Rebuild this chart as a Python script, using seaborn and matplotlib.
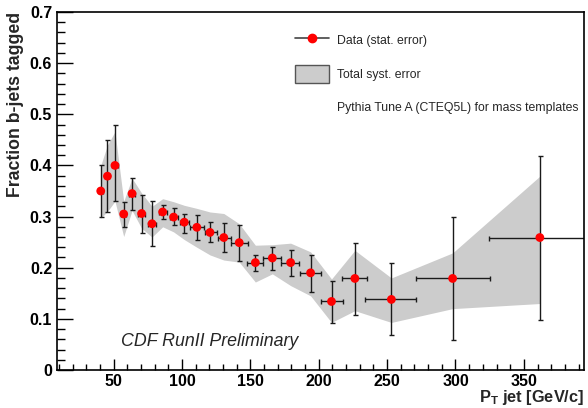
import numpy as np
import pandas as pd
import matplotlib
matplotlib.use("Agg")
import matplotlib.pyplot as plt
from matplotlib.lines import Line2D
from matplotlib.patches import Patch
from matplotlib.ticker import MultipleLocator
import seaborn as sns

# ---------------- data ----------------
pt = [40.5, 45.4, 50.9, 57.3, 63.4, 70.4, 78.0, 85.8, 93.8, 101.6, 110.8, 120.4,
      130.5, 141.8, 153.6, 166.0, 179.4, 194.0, 209.3, 226.4, 253.1, 297.9, 361.7]
frac = [0.350, 0.379, 0.400, 0.305, 0.345, 0.306, 0.286, 0.309, 0.299, 0.289, 0.279, 0.269,
        0.259, 0.249, 0.210, 0.219, 0.210, 0.190, 0.134, 0.179, 0.138, 0.179, 0.259]
stat_up = [0.400, 0.450, 0.480, 0.328, 0.375, 0.343, 0.331, 0.322, 0.316, 0.305, 0.303, 0.289,
           0.288, 0.283, 0.225, 0.240, 0.234, 0.224, 0.175, 0.248, 0.209, 0.300, 0.419]
stat_dn = [0.300, 0.309, 0.330, 0.280, 0.313, 0.268, 0.242, 0.295, 0.283, 0.268, 0.255, 0.250,
           0.230, 0.214, 0.193, 0.196, 0.183, 0.153, 0.091, 0.108, 0.069, 0.058, 0.098]
bin_lo = [39.0, 43.9, 48.9, 55.3, 61.2, 68.0, 75.3, 82.8, 90.8, 98.4, 106.0, 116.4,
          126.0, 135.9, 147.6, 159.5, 172.4, 186.5, 201.6, 216.9, 234.0, 270.9, 324.5]
bin_hi = [42.0, 46.9, 52.9, 59.3, 65.6, 72.8, 80.7, 88.8, 96.8, 104.8, 115.7, 125.4,
          135.9, 148.0, 159.5, 172.6, 185.8, 201.6, 217.4, 235.6, 271.4, 325.0, 420.0]
syst_up = [0.400, 0.440, 0.466, 0.330, 0.375, 0.346, 0.320, 0.335, 0.329, 0.322, 0.316, 0.309,
           0.306, 0.286, 0.244, 0.245, 0.248, 0.231, 0.178, 0.234, 0.180, 0.229, 0.379]
syst_dn = [0.297, 0.310, 0.330, 0.261, 0.312, 0.277, 0.260, 0.280, 0.270, 0.255, 0.240, 0.225,
           0.215, 0.211, 0.172, 0.188, 0.165, 0.145, 0.093, 0.116, 0.093, 0.120, 0.130]

xticks = [50, 100, 150, 200, 250, 300, 350]
xtick_labels = ["50", "100", "150", "200", "250", "300", "350"]
yticks = [0.0, 0.1, 0.2, 0.3, 0.4, 0.5, 0.6, 0.7]
ytick_labels = ["0", "0.1", "0.2", "0.3", "0.4", "0.5", "0.6", "0.7"]

df = pd.DataFrame({"pt": pt, "frac": frac})

# ---------------- style ----------------
sns.set_style("ticks")
plt.rcParams["font.family"] = ["Liberation Sans", "DejaVu Sans"]
plt.rcParams["mathtext.fontset"] = "custom"
plt.rcParams["mathtext.rm"] = "Liberation Sans"
plt.rcParams["mathtext.bf"] = "Liberation Sans:bold"
plt.rcParams["mathtext.it"] = "Liberation Sans:italic"

fig = plt.figure(figsize=(5.88, 4.08), dpi=100)
ax = fig.add_axes([57 / 588, 38 / 408, 527 / 588, 358 / 408])

x = np.array(pt)
y = np.array(frac)

# systematic band
ax.fill_between(x, syst_dn, syst_up, color="#cccccc", lw=0, zorder=1)

# stat errors
yerr = [y - np.array(stat_dn), np.array(stat_up) - y]
xerr = [x - np.array(bin_lo), np.array(bin_hi) - x]
ax.errorbar(x, y, yerr=yerr, xerr=xerr, fmt="none", ecolor="#1a1a1a",
            elinewidth=1.0, capsize=1.8, capthick=1.0, zorder=2)

# points
sns.scatterplot(data=df, x="pt", y="frac", ax=ax, color="red", s=40,
                edgecolor="none", linewidth=0, zorder=3, legend=False)

ax.set_xlim(8.5, 394)
ax.set_ylim(0, 0.7)

ax.set_xticks(xticks)
ax.set_xticklabels(xtick_labels)
ax.set_yticks(yticks)
ax.set_yticklabels(ytick_labels)
ax.xaxis.set_minor_locator(MultipleLocator(10))
ax.yaxis.set_minor_locator(MultipleLocator(0.02))

ax.tick_params(axis="both", which="both", direction="in", top=False, right=False,
               colors="black", width=1.0)
ax.tick_params(axis="x", which="major", length=8, pad=3, labelsize=11.5)
ax.tick_params(axis="x", which="minor", length=4)
ax.tick_params(axis="y", which="major", length=11.5, pad=3.5, labelsize=11.5)
ax.tick_params(axis="y", which="minor", length=5.8)
for lab in ax.get_xticklabels() + ax.get_yticklabels():
    lab.set_fontweight("bold")

for s in ax.spines.values():
    s.set_visible(True)
    s.set_linewidth(1.2)
    s.set_color("black")

ax.set_xlabel(r"$\mathbf{P_T}$ jet [GeV/c]", fontsize=11.8, fontweight="bold", loc="right")
ax.xaxis.set_label_coords(1.0, -0.05)
ax.set_ylabel("Fraction b-jets tagged", fontsize=12.7, fontweight="bold", loc="top")
ax.yaxis.set_label_coords(-0.0626, 1.0)

ax.text(0.1214, 0.067, "CDF RunII Preliminary", transform=ax.transAxes,
        fontsize=12.8, fontstyle="italic", ha="left", va="baseline")

# legend
h_data = Line2D([0], [0], color="#444444", lw=1.2, marker="o", markersize=6,
                markerfacecolor="red", markeredgecolor="red")
h_syst = Patch(facecolor="#cccccc", edgecolor="#555555", linewidth=1.0)
h_none = Line2D([0], [0], color="none", lw=0)
ax.legend([h_data, h_syst, h_none],
          ["Data (stat. error)", "Total syst. error",
           "Pythia Tune A (CTEQ5L) for mass templates"],
          loc="upper left", bbox_to_anchor=(294.5 / 588, 1 - 31.0 / 408),
          bbox_transform=fig.transFigure, frameon=False, fontsize=8.8,
          borderpad=0, borderaxespad=0, handlelength=2.86, handleheight=2.0,
          handletextpad=0.63, labelspacing=1.2)

fig.savefig("out.png", dpi=100)
